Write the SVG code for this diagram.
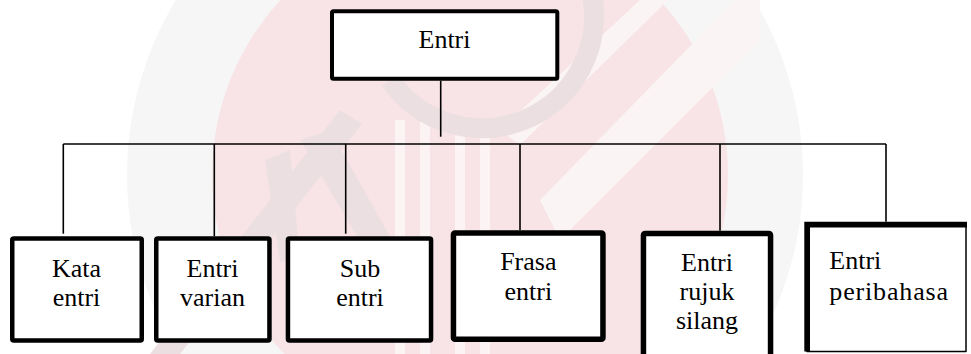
<svg xmlns="http://www.w3.org/2000/svg" width="971" height="354" viewBox="0 0 971 354">
  <style>
    .box { fill: #ffffff; stroke: #000000; stroke-linejoin: round; }
    .thin { stroke-width: 4.5; }
    .wide { stroke-width: 5.5; }
    .link { fill: none; stroke: #000000; stroke-width: 1.6; }
    text { font-family: 'Liberation Serif', serif; font-size: 26px; fill: #000000; }
    .mid { text-anchor: middle; }
  </style>

  <rect width="971" height="354" fill="#ffffff"/>

  <!-- faint emblem behind the chart -->
  <g id="watermark">
    <circle cx="465" cy="175" r="338" fill="#f6f6f6"/>
    <circle cx="470" cy="175" r="258" fill="#f8e4e7"/>
    <!-- pale diagonal bands, upper right -->
    <path d="M500,130 L640,0 L668,0 L520,145 Z" fill="#fbf4f5"/>
    <path d="M540,200 L735,0 L760,0 L760,40 L560,240 Z" fill="#fbf4f5"/>
    <!-- vertical stripes -->
    <g fill="#fbf3f4">
      <rect x="395" y="120" width="10" height="234"/>
      <rect x="420" y="120" width="10" height="234"/>
      <rect x="455" y="120" width="10" height="234"/>
      <rect x="480" y="120" width="10" height="234"/>
    </g>
    <!-- grey strokes of the letter form -->
    <g fill="#ecdfe1">
      <path d="M300,140 L330,130 L420,290 L395,300 Z"/>
      <path d="M265,160 L290,150 L300,260 L280,262 Z"/>
      <path d="M150,354 L340,110 L362,124 L180,354 Z"/>
    </g>
    <path d="M390,80 A112,112 0 0 0 592,-5" fill="none" stroke="#ecdfe1" stroke-width="20"/>
  </g>

  <!-- connectors -->
  <g id="connectors" class="link">
    <path d="M440.7,80.7 V136.7"/>
    <path d="M63.3,144 H886"/>
    <path d="M63.3,144 V233.7"/>
    <path d="M214.3,144 V236.3"/>
    <path d="M345.7,144 V233.7"/>
    <path d="M520,144 V230.3"/>
    <path d="M720,144 V230.7"/>
    <path d="M886,144 V221.7"/>
  </g>

  <g id="entri">
    <rect class="box" x="332" y="11.3" width="225.3" height="67.4" stroke-width="4" rx="1.5"/>
    <text class="mid" x="444.5" y="48.3">Entri</text>
  </g>

  <g id="kata-entri">
    <rect class="box thin" x="12.25" y="238.5" width="129.5" height="102" rx="1.5"/>
    <text class="mid" x="76.5" y="276.5">Kata</text>
    <text class="mid" x="76.5" y="305.5">entri</text>
  </g>

  <g id="entri-varian">
    <rect class="box thin" x="156.25" y="238.5" width="113.2" height="102" rx="1.5"/>
    <text class="mid" x="212.5" y="276.5">Entri</text>
    <text class="mid" x="212.5" y="305.5">varian</text>
  </g>

  <g id="sub-entri">
    <rect class="box thin" x="287.95" y="238.5" width="143.1" height="102" rx="1.5"/>
    <text class="mid" x="360" y="276.5">Sub</text>
    <text class="mid" x="360" y="305.5">entri</text>
  </g>

  <g id="frasa-entri">
    <rect class="box wide" x="453.45" y="233.05" width="149.5" height="106.2" rx="1.5"/>
    <text class="mid" x="528.3" y="269.7">Frasa</text>
    <text class="mid" x="528.3" y="299.7">entri</text>
  </g>

  <g id="entri-rujuk-silang">
    <rect class="box wide" x="643.45" y="233.45" width="127.1" height="140" rx="1.5"/>
    <text class="mid" x="707" y="270.5">Entri</text>
    <text class="mid" x="707" y="299.8">rujuk</text>
    <text class="mid" x="707" y="329">silang</text>
  </g>

  <g id="entri-peribahasa">
    <rect class="box" x="807" y="224.5" width="159" height="127" stroke-width="1.5"/>
    <path d="M807.15,351.5 V224.55 H967" fill="none" stroke="#000000" stroke-width="5.7"/>
    <text x="829.3" y="268.5">Entri</text>
    <text x="829.3" y="299.5" letter-spacing="0.85">peribahasa</text>
  </g>
</svg>
